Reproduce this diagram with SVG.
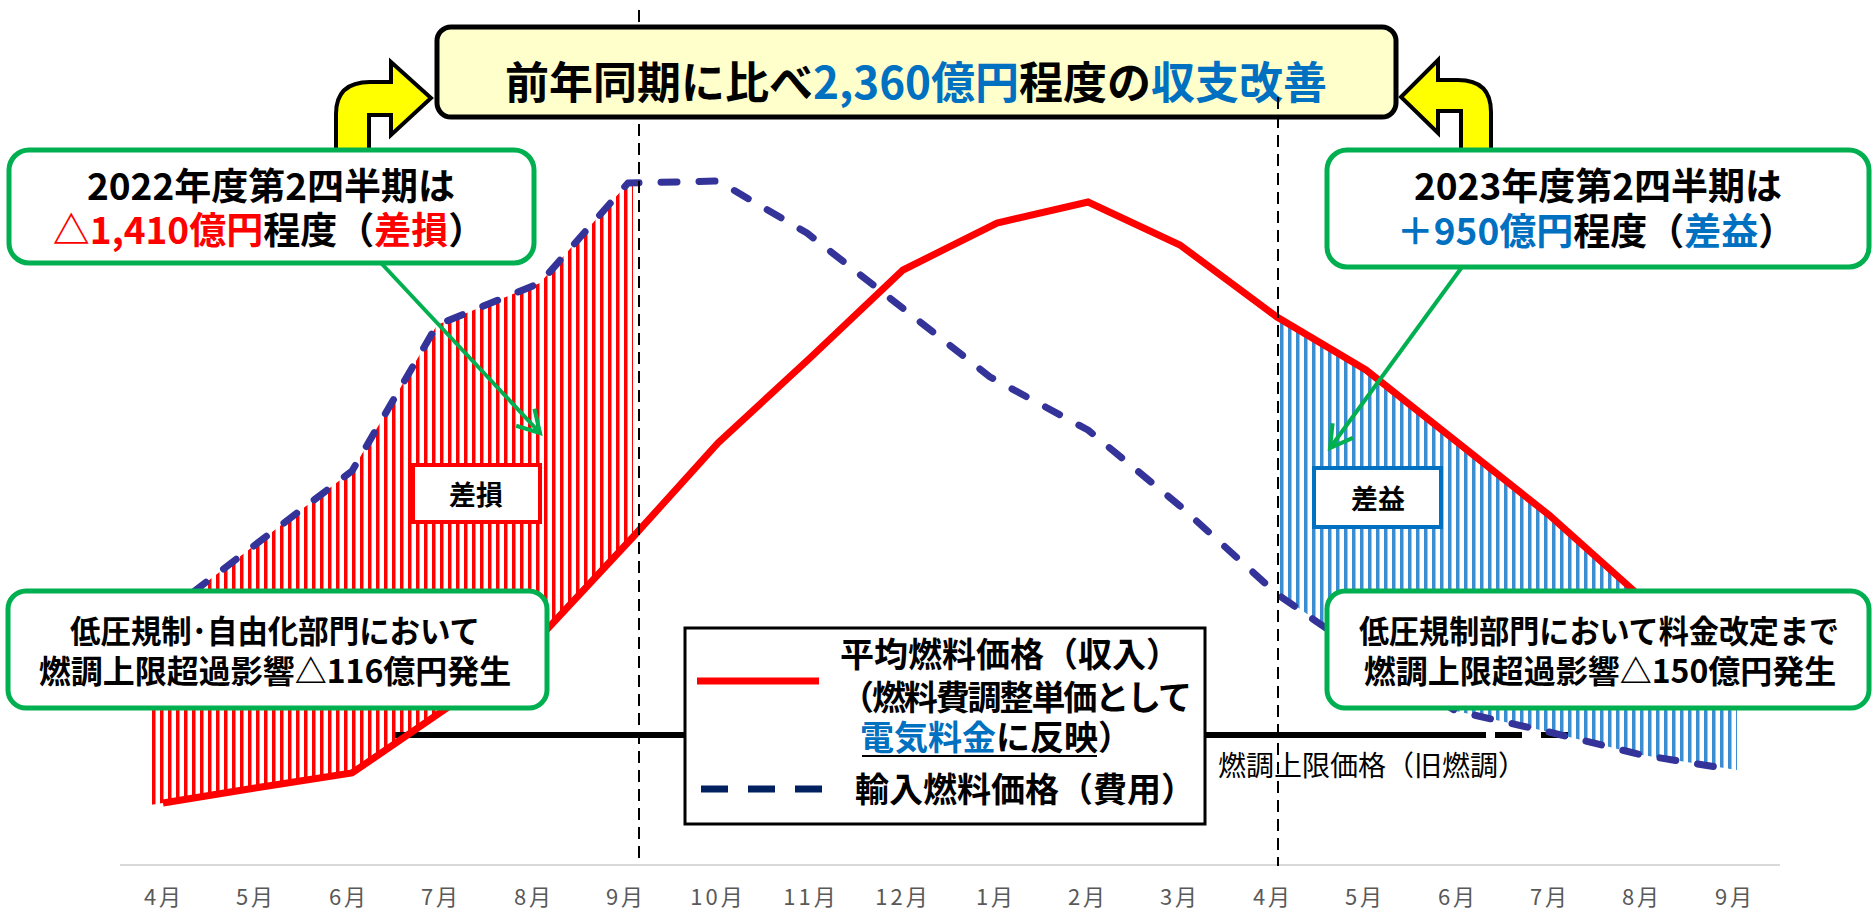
<svg xmlns="http://www.w3.org/2000/svg" width="1874" height="908" viewBox="0 0 1874 908">
<defs>
<style>
text{font-family:"Noto Sans CJK JP","Noto Sans",sans-serif;}
.b{font-weight:700;fill:#000;}
.call{fill:#FFFFFF;stroke:#00B050;stroke-width:5;}
.blue{fill:#0070C0;}
.red{fill:#FF0000;}
.month{font-size:22px;fill:#595959;text-anchor:middle;letter-spacing:3px;}
.vdash{stroke:#000;stroke-width:2;stroke-dasharray:12 7;fill:none;}
.yarrow{fill:#FFFF00;stroke:#000;stroke-width:4;stroke-linejoin:miter;}
.garrow{stroke:#00B050;stroke-width:4;fill:none;}
</style>
<pattern id="hatchRed" patternUnits="userSpaceOnUse" width="8" height="10">
<rect x="0" y="0" width="3.5" height="10" fill="#FF0000"/>
</pattern>
<pattern id="hatchBlue" patternUnits="userSpaceOnUse" width="8" height="10">
<rect x="0" y="0" width="3.5" height="10" fill="#3A8DD0"/>
</pattern>
<marker id="gHead" markerUnits="userSpaceOnUse" markerWidth="34" markerHeight="34" viewBox="-28 -17 34 34" refX="0" refY="0" orient="auto" overflow="visible">
<path d="M-21.6,-12.5 L0,0 L-21.6,12.5" fill="none" stroke="#00B050" stroke-width="4"/>
</marker>
</defs>

<g id="axis">
<line x1="120" y1="865" x2="1780" y2="865" stroke="#D9D9D9" stroke-width="2"/>
<text class="month" x="164" y="905">4月</text>
<text class="month" x="256" y="905">5月</text>
<text class="month" x="349" y="905">6月</text>
<text class="month" x="441" y="905">7月</text>
<text class="month" x="534" y="905">8月</text>
<text class="month" x="626" y="905">9月</text>
<text class="month" x="718" y="905">10月</text>
<text class="month" x="811" y="905">11月</text>
<text class="month" x="903" y="905">12月</text>
<text class="month" x="996" y="905">1月</text>
<text class="month" x="1088" y="905">2月</text>
<text class="month" x="1180" y="905">3月</text>
<text class="month" x="1273" y="905">4月</text>
<text class="month" x="1365" y="905">5月</text>
<text class="month" x="1458" y="905">6月</text>
<text class="month" x="1550" y="905">7月</text>
<text class="month" x="1642" y="905">8月</text>
<text class="month" x="1735" y="905">9月</text>
</g>

<g id="hatches">
<polygon points="150,625 200,587 255,545 352,471 437,325 540,283 628,183 633,183 633,537 540,637 447,708 352,773 255,788 163,803 150,805" fill="url(#hatchRed)"/>
<polygon points="1279,317 1366,370 1457,442 1549,515 1642,598 1737,682 1737,770 1642,755 1549,732 1456,711 1366,656 1279,594" fill="url(#hatchBlue)"/>
</g>

<g id="connectors">
<line x1="395" y1="735" x2="1486" y2="735" stroke="#000" stroke-width="6"/>
<line x1="1495" y1="735" x2="1568" y2="735" stroke="#000" stroke-width="6" stroke-dasharray="27 19"/>
<polyline id="revenue" points="163,803 255,788 352,773 447,708 540,637 633,537 718,443 810,358 903,270 997,223 1088,202 1180,245 1277,317 1366,370 1457,442 1549,515 1642,598 1735,680" fill="none" stroke="#FF0000" stroke-width="7" stroke-linejoin="miter"/>
<polyline id="cost" points="163,615 255,545 352,471 437,325 540,283 628,183 718,181 807,233 900,306 990,377 1088,430 1180,506 1277,594 1366,656 1456,711 1549,732 1642,755 1735,770" fill="none" stroke="#333399" stroke-width="7" stroke-linecap="round" stroke-linejoin="round" stroke-dasharray="16 22"/>
<line class="vdash" x1="639" y1="10" x2="639" y2="862"/>
</g>

<g id="label-loss">
<rect x="413" y="465" width="127" height="57" fill="#FFFFFF" stroke="#FF0000" stroke-width="4"/>
<text class="b" x="476" y="505" font-size="27" text-anchor="middle">差損</text>
</g>
<g id="label-gain">
<rect x="1314" y="468" width="127" height="59" fill="#FFFFFF" stroke="#0070C0" stroke-width="4"/>
<text class="b" x="1378" y="509" font-size="27" text-anchor="middle">差益</text>
</g>

<g id="cap-label">
<text x="1218" y="776" font-size="28" fill="#000">燃調上限価格（旧燃調）</text>
</g>

<g id="legend">
<rect x="685" y="628" width="520" height="196" fill="#FFFFFF" stroke="#000" stroke-width="3"/>
<line x1="697" y1="681" x2="819" y2="681" stroke="#FF0000" stroke-width="7"/>
<line x1="701" y1="789" x2="822" y2="789" stroke="#002060" stroke-width="7" stroke-dasharray="27 20"/>
<text class="b" x="840" y="667" font-size="34">平均燃料価格（収入）</text>
<text class="b" x="840" y="710" font-size="34" textLength="352" lengthAdjust="spacing">（燃料費調整単価として</text>
<text class="b" x="860" y="750" font-size="34"><tspan class="blue">電気料金</tspan>に反映）</text>
<line x1="862" y1="756" x2="1097" y2="756" stroke="#000" stroke-width="2"/>
<text class="b" x="855" y="802" font-size="34">輸入燃料価格（費用）</text>
</g>

<g id="title">
<rect x="437" y="27" width="959" height="90" rx="14" fill="#FFFFCC" stroke="#000" stroke-width="5"/>
<text class="b" x="916" y="99" font-size="44" text-anchor="middle">前年同期に比べ<tspan class="blue">2,360億円</tspan>程度の<tspan class="blue">収支改善</tspan></text>
</g>

<g id="divider-right">
<line class="vdash" x1="1278" y1="97" x2="1278" y2="866"/>
</g>

<g id="arrow-left">
<path class="yarrow" d="M336,152 V114 Q336,82 370,82 H391 V62 L431,98 L391,135 V115 H369 V152 Z"/>
</g>
<g id="arrow-right">
<path class="yarrow" d="M1491,152 V112 Q1491,80 1458,80 H1438 V60 L1401,97 L1438,133 V111 H1461 V152 Z"/>
</g>

<g id="callout-2022">
<rect class="call" x="9" y="150" width="525" height="113" rx="20"/>
<text class="b" x="271" y="200" font-size="37" text-anchor="middle">2022年度第2四半期は</text>
<text class="b" x="269" y="244" font-size="37" text-anchor="middle"><tspan class="red">△1,410億円</tspan>程度（<tspan class="red">差損</tspan>）</text>
</g>

<g id="callout-2023">
<rect class="call" x="1327" y="150" width="542" height="117" rx="20"/>
<text class="b" x="1598" y="200" font-size="37" text-anchor="middle">2023年度第2四半期は</text>
<text class="b" x="1596" y="245" font-size="37" text-anchor="middle"><tspan class="blue">＋950億円</tspan>程度（<tspan class="blue">差益</tspan>）</text>
</g>

<g id="callout-lowvoltage-2022">
<rect class="call" x="8" y="591" width="539" height="117" rx="18"/>
<text class="b" x="275" y="643" font-size="32" text-anchor="middle" textLength="410" lengthAdjust="spacingAndGlyphs">低圧規制･自由化部門において</text>
<text class="b" x="275" y="683" font-size="32" text-anchor="middle">燃調上限超過影響△116億円発生</text>
</g>

<g id="callout-lowvoltage-2023">
<rect class="call" x="1327" y="591" width="542" height="117" rx="18"/>
<text class="b" x="1599" y="643" font-size="32" text-anchor="middle" textLength="480" lengthAdjust="spacingAndGlyphs">低圧規制部門において料金改定まで</text>
<text class="b" x="1600" y="683" font-size="32" text-anchor="middle">燃調上限超過影響△150億円発生</text>
</g>

<g id="pointer-arrows">
<line class="garrow" x1="381" y1="263" x2="540" y2="433" marker-end="url(#gHead)"/>
<line class="garrow" x1="1462" y1="267" x2="1330" y2="448" marker-end="url(#gHead)"/>
</g>
</svg>
